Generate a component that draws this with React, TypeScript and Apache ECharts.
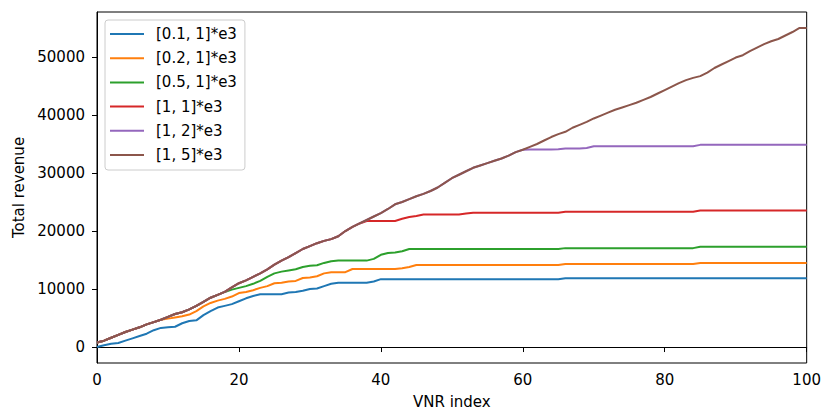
import React, { useEffect, useRef } from "react";
import * as echarts from "echarts";

const xIndex: number[] = Array.from({ length: 101 }, (_, i) => i);

const seriesNames = ["[0.1, 1]*e3", "[0.2, 1]*e3", "[0.5, 1]*e3", "[1, 1]*e3", "[1, 2]*e3", "[1, 5]*e3"];
const colors = ["#1f77b4", "#ff7f0e", "#2ca02c", "#d62728", "#9467bd", "#8c564b"];

// [1, 5]*e3 (brown, envelope)
const rev15: number[] = [
  800, 1100, 1600, 2100, 2600, 3000, 3400, 3900, 4300, 4700,
  5200, 5700, 6000, 6500, 7100, 7800, 8500, 9000, 9500, 10300,
  11000, 11500, 12100, 12700, 13400, 14200, 14900, 15500, 16200, 16900,
  17400, 17900, 18300, 18600, 19100, 20000, 20700, 21300, 21900, 22500,
  23100, 23800, 24600, 25000, 25500, 26000, 26400, 26900, 27500, 28300,
  29100, 29700, 30300, 30900, 31300, 31700, 32100, 32500, 33000, 33600,
  34000, 34500, 35000, 35600, 36200, 36700, 37100, 37800, 38300, 38800,
  39400, 39900, 40400, 40900, 41300, 41700, 42100, 42600, 43100, 43700,
  44300, 44900, 45500, 46000, 46400, 46700, 47300, 48100, 48700, 49300,
  49900, 50300, 51000, 51600, 52200, 52700, 53100, 53700, 54300, 55000,
  55000,
];

// [1, 2]*e3 (purple)
const rev12: number[] = [
  800, 1100, 1600, 2100, 2600, 3000, 3400, 3900, 4300, 4700,
  5200, 5700, 6000, 6500, 7100, 7800, 8500, 9000, 9500, 10300,
  11000, 11500, 12100, 12700, 13400, 14200, 14900, 15500, 16200, 16900,
  17400, 17900, 18300, 18600, 19100, 20000, 20700, 21300, 21900, 22500,
  23100, 23800, 24600, 25000, 25500, 26000, 26400, 26900, 27500, 28300,
  29100, 29700, 30300, 30900, 31300, 31700, 32100, 32500, 33000, 33600,
  34000, 34050, 34050, 34050, 34050, 34100, 34220, 34220, 34220, 34300,
  34600, 34600, 34600, 34600, 34600, 34600, 34600, 34600, 34600, 34600,
  34600, 34600, 34600, 34600, 34600, 34850, 34850, 34850, 34850, 34850,
  34850, 34850, 34850, 34850, 34850, 34850, 34850, 34850, 34850, 34850,
  34850,
];

// [1, 1]*e3 (red)
const rev11: number[] = [
  800, 1100, 1600, 2100, 2600, 3000, 3400, 3900, 4300, 4700,
  5200, 5700, 6000, 6500, 7100, 7800, 8500, 9000, 9500, 10300,
  11000, 11500, 12100, 12700, 13400, 14200, 14900, 15500, 16200, 16900,
  17400, 17900, 18300, 18600, 19100, 20000, 20700, 21300, 21730, 21730,
  21730, 21730, 21730, 22100, 22400, 22600, 22850, 22850, 22850, 22850,
  22850, 22850, 23000, 23140, 23140, 23140, 23140, 23140, 23140, 23140,
  23140, 23140, 23140, 23140, 23140, 23140, 23310, 23310, 23310, 23310,
  23310, 23310, 23310, 23310, 23310, 23310, 23310, 23310, 23310, 23310,
  23310, 23310, 23310, 23310, 23310, 23530, 23530, 23530, 23530, 23530,
  23530, 23530, 23530, 23530, 23530, 23530, 23530, 23530, 23530, 23530,
  23530,
];

// [0.5, 1]*e3 (green)
const rev051: number[] = [
  800, 1100, 1600, 2100, 2600, 3000, 3400, 3900, 4300, 4700,
  5200, 5700, 6000, 6500, 7100, 7800, 8500, 9000, 9500, 9900,
  10200, 10500, 10900, 11400, 12100, 12700, 13000, 13200, 13400, 13800,
  14000, 14100, 14500, 14800, 14900, 14900, 14900, 14900, 14900, 15200,
  15900, 16200, 16300, 16500, 16900, 16900, 16900, 16900, 16900, 16900,
  16900, 16900, 16900, 16900, 16900, 16900, 16900, 16900, 16900, 16900,
  16900, 16900, 16900, 16900, 16900, 16900, 17050, 17050, 17050, 17050,
  17050, 17050, 17050, 17050, 17050, 17050, 17050, 17050, 17050, 17050,
  17050, 17050, 17050, 17050, 17050, 17300, 17300, 17300, 17300, 17300,
  17300, 17300, 17300, 17300, 17300, 17300, 17300, 17300, 17300, 17300,
  17300,
];

// [0.2, 1]*e3 (orange)
const rev021: number[] = [
  800, 1100, 1600, 2100, 2600, 3000, 3400, 3900, 4300, 4700,
  4900, 5100, 5300, 5600, 6200, 7000, 7600, 8000, 8300, 8700,
  9300, 9500, 9800, 10200, 10500, 11000, 11100, 11300, 11400, 11900,
  12000, 12200, 12700, 12900, 12900, 12900, 13450, 13450, 13450, 13450,
  13450, 13450, 13450, 13600, 13800, 14150, 14150, 14150, 14150, 14150,
  14150, 14150, 14150, 14150, 14150, 14150, 14150, 14150, 14150, 14150,
  14150, 14150, 14150, 14150, 14150, 14150, 14330, 14330, 14330, 14330,
  14330, 14330, 14330, 14330, 14330, 14330, 14330, 14330, 14330, 14330,
  14330, 14330, 14330, 14330, 14330, 14500, 14500, 14500, 14500, 14500,
  14500, 14500, 14500, 14500, 14500, 14500, 14500, 14500, 14500, 14500,
  14500,
];

// [0.1, 1]*e3 (blue)
const rev011: number[] = [
  0, 300, 550, 700, 1100, 1500, 1900, 2300, 2900, 3300,
  3400, 3500, 4100, 4500, 4600, 5500, 6200, 6800, 7100, 7400,
  7900, 8400, 8800, 9100, 9100, 9100, 9100, 9400, 9500, 9700,
  10000, 10100, 10500, 10900, 11100, 11100, 11100, 11100, 11100, 11300,
  11700, 11700, 11700, 11700, 11700, 11700, 11700, 11700, 11700, 11700,
  11700, 11700, 11700, 11700, 11700, 11700, 11700, 11700, 11700, 11700,
  11700, 11700, 11700, 11700, 11700, 11700, 11850, 11850, 11850, 11850,
  11850, 11850, 11850, 11850, 11850, 11850, 11850, 11850, 11850, 11850,
  11850, 11850, 11850, 11850, 11850, 11850, 11850, 11850, 11850, 11850,
  11850, 11850, 11850, 11850, 11850, 11850, 11850, 11850, 11850, 11850,
  11850,
];

const allSeries = [rev011, rev021, rev051, rev11, rev12, rev15];
const yTicks = [0, 10000, 20000, 30000, 40000, 50000];
const xTicks = [0, 20, 40, 60, 80, 100];

const FONT = "DejaVu Sans";

export default function App() {
  const ref = useRef<HTMLDivElement>(null);
  useEffect(() => {
    if (!ref.current) return;
    const chart = echarts.init(ref.current, undefined, { renderer: "svg" });
    chart.setOption({
      animation: false,
      backgroundColor: "#fff",
      textStyle: { fontFamily: FONT },
      grid: {
        left: 97,
        right: 15,
        top: 12,
        bottom: 47,
        show: true,
        borderColor: "#000",
        borderWidth: 1,
        backgroundColor: "transparent",
      },
      legend: {
        orient: "vertical",
        left: 105,
        top: 20,
        padding: [6, 8, 7, 5],
        icon: "rect",
        itemWidth: 34,
        itemHeight: 2,
        itemGap: 8.2,
        backgroundColor: "rgba(255,255,255,0.8)",
        borderColor: "#cccccc",
        borderWidth: 1,
        borderRadius: 3,
        textStyle: {
          fontFamily: FONT,
          fontSize: 15,
          color: "#000",
          lineHeight: 16,
          padding: [0, 0, 0, 7],
        },
        data: seriesNames,
      },
      xAxis: {
        type: "value",
        min: 0,
        max: 100,
        interval: 20,
        name: "VNR index",
        nameLocation: "middle",
        nameGap: 31,
        nameTextStyle: { fontFamily: FONT, fontSize: 15, color: "#000" },
        axisLine: { show: true, lineStyle: { color: "#000", width: 1 } },
        axisTick: { show: true, length: 5, lineStyle: { color: "#000", width: 1 }, customValues: xTicks },
        axisLabel: { fontFamily: FONT, fontSize: 15, color: "#000", margin: 9, customValues: xTicks },
        splitLine: { show: false },
      },
      yAxis: {
        type: "value",
        min: -2750,
        max: 57750,
        name: "Total revenue",
        nameLocation: "middle",
        nameGap: 71,
        nameRotate: 90,
        nameTextStyle: { fontFamily: FONT, fontSize: 15, color: "#000" },
        axisLine: { show: true, onZero: false, lineStyle: { color: "#000", width: 1 } },
        axisTick: { show: true, length: 5, lineStyle: { color: "#000", width: 1 }, customValues: yTicks },
        axisLabel: {
          fontFamily: FONT,
          fontSize: 15,
          color: "#000",
          margin: 12,
          customValues: yTicks,
          formatter: (v: number) => String(v),
        },
        splitLine: { show: false },
      },
      series: allSeries.map((vals, k) => ({
        name: seriesNames[k],
        type: "line",
        data: xIndex.map((x, i) => [x, vals[i]]),
        showSymbol: false,
        symbol: "none",
        color: colors[k],
        itemStyle: { color: colors[k] },
        lineStyle: { color: colors[k], width: 2 },
      })),
    });
    return () => chart.dispose();
  }, []);
  return (
    <div
      ref={ref}
      style={{ position: "fixed", left: 0, top: 0, width: 824, height: 414 }}
    />
  );
}
